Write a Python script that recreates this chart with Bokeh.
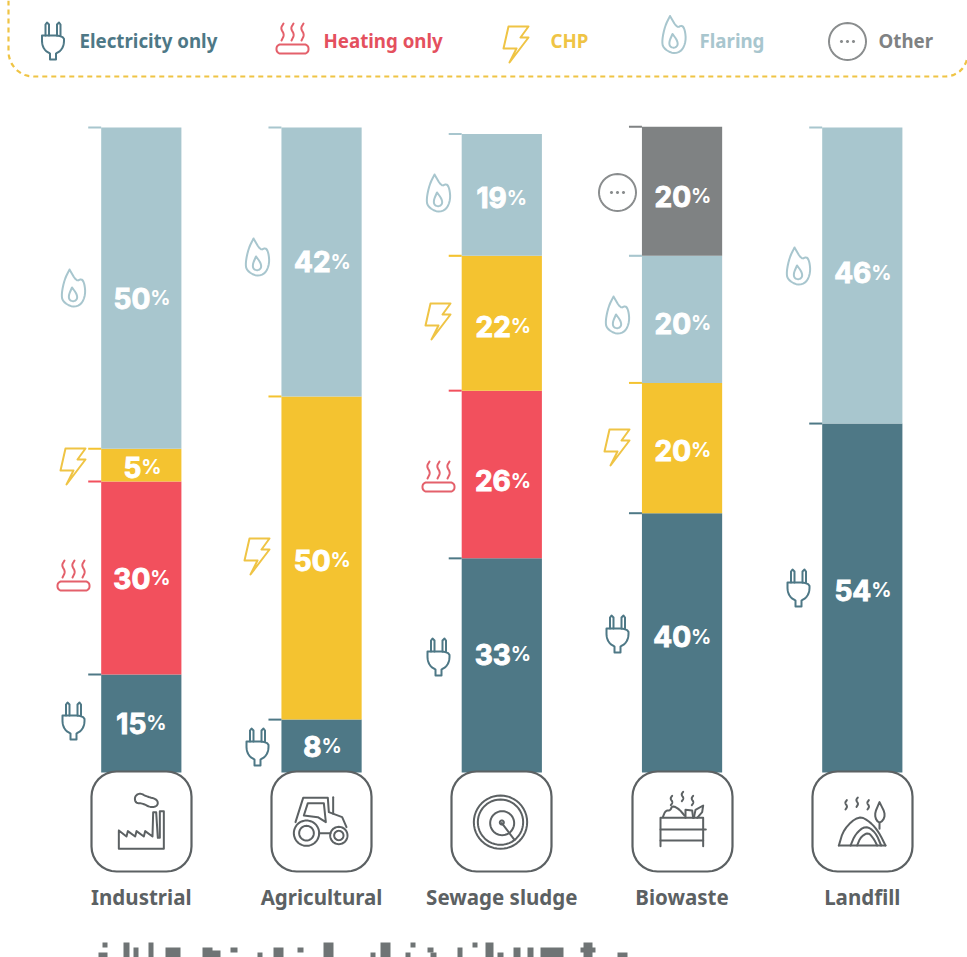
import math
from bokeh.embed import file_html
from bokeh.models import Range1d, ColumnDataSource
from bokeh.plotting import figure
from bokeh.resources import INLINE
from bokeh.core.properties import value

# ---------- data ----------
categories = ["Industrial", "Agricultural", "Sewage sludge", "Biowaste", "Landfill"]
series_names = ["Electricity only", "Heating only", "CHP", "Flaring", "Other"]
electricity = [15, 8, 33, 40, 54]
heating = [30, None, 26, None, None]
chp = [5, 50, 22, 20, None]
flaring = [50, 42, 19, 20, 46]
other = [None, None, None, 20, None]
# segment heights (same order)
electricity_h = [15.2, 8.2, 33.2, 40.2, 54.1]
heating_h = [29.9, 0, 26.0, 0, 0]
chp_h = [5.1, 50.1, 20.9, 20.2, 0]
flaring_h = [49.8, 41.7, 18.9, 19.7, 45.9]
other_h = [0, 0, 0, 20.0, 0]

# ---------- styles / layout ----------
bar_colors = ["#4e7886", "#f2505d", "#f4c330", "#a8c6ce", "#7f8283"]
icon_colors = ["#4e7886", "#e4606b", "#efc445", "#a8c6ce", "#8a8d8e"]
text_colors = ["#4e7886", "#e4505e", "#efc445", "#a8c6ce", "#7f8283"]
ink = "#5c6163"
FONT = "Noto Sans"
NUM = "Inter"

label_nudge = [[0, 0, 2, 10], [0, 2, 0], [-11, 6, 3, 3], [-6, 2, 4, 5], [-8, -3]]
icon_x = [73, 257, 438, 617, 798]
icon_y = [[720, 575, 466, 289, None], [746, None, 556, 258, None], [656, 476, 321, 194, None],
          [633, None, 447, 316, 192], [587, None, None, 267, None]]

W, H = 967, 957
PX_PER_UNIT = 6.45
BASE_REF = 772
x0 = (0 - 140.8) / 180.25
x1 = (W - 140.8) / 180.25
y0 = (BASE_REF - H) / PX_PER_UNIT
y1 = BASE_REF / PX_PER_UNIT

p = figure(width=W, height=H, output_backend="svg", toolbar_location=None,
           x_range=Range1d(x0, x1), y_range=Range1d(y0, y1), min_border=0)
p.axis.visible = False
p.grid.visible = False
p.outline_line_color = None
p.background_fill_color = "white"
p.extra_x_ranges["px"] = Range1d(0, W)
p.extra_y_ranges["px"] = Range1d(H, 0)
PX = dict(x_range_name="px", y_range_name="px")

# ---------- bars, stubs, percent labels ----------
heights = [electricity_h, heating_h, chp_h, flaring_h, other_h]
labels = [electricity, heating, chp, flaring, other]
bx, bb, bt, bc, sx0, sx1, sy, sc = [], [], [], [], [], [], [], []
nx, ny, nt, noff, nyo = [], [], [], [], []
BAR_W = 0.445
for i in range(len(categories)):
    base = 0.0
    k = 0
    for s in range(5):
        h = heights[s][i]
        if not h:
            continue
        bx.append(i); bb.append(base); bt.append(base + h); bc.append(bar_colors[s])
        sx0.append(i - BAR_W / 2 - 0.072); sx1.append(i - BAR_W / 2); sy.append(base + h); sc.append(bar_colors[s])
        n = labels[s][i]
        nx.append(i); ny.append(base + h / 2); nt.append(str(n))
        if n >= 20:
            noff.append(9)
        elif n >= 10:
            noff.append(5)
        else:
            noff.append(0)
        nyo.append(label_nudge[i][k])
        base += h
        k += 1

p.vbar(x=bx, bottom=bb, top=bt, width=BAR_W, fill_color=bc, line_color=None)
p.segment(x0=sx0, x1=sx1, y0=sy, y1=sy, line_color=sc, line_width=2)

src = ColumnDataSource(dict(x=nx, y=ny, t=nt, o=noff, yo=nyo, pc=["%"] * len(nt)))
p.text(x="x", y="y", text="t", x_offset="o", y_offset="yo", source=src, text_color="white",
       text_outline_color="white",
       text_font=value(NUM), text_font_style="bold", text_font_size="28px",
       text_align="right", text_baseline="middle")
p.text(x="x", y="y", text="pc", x_offset="o", y_offset="yo", source=src, text_color="white",
       text_font=value(NUM), text_font_style="bold", text_font_size="20px",
       text_align="left", text_baseline="middle")


# ---------- icon helpers ----------
def chaikin(pts, closed=False, n=3):
    for _ in range(n):
        out = [] if closed else [pts[0]]
        m = len(pts)
        rng = range(m) if closed else range(m - 1)
        for j in rng:
            a, b = pts[j], pts[(j + 1) % m]
            out.append((a[0] * .75 + b[0] * .25, a[1] * .75 + b[1] * .25))
            out.append((a[0] * .25 + b[0] * .75, a[1] * .25 + b[1] * .75))
        if not closed:
            out.append(pts[-1])
        pts = out
    return pts + [pts[0]] if closed else pts


def circ(cx, cy, r, n=48):
    return [(cx + r * math.cos(2 * math.pi * t / n), cy + r * math.sin(2 * math.pi * t / n)) for t in range(n + 1)]


def rrect(xa, ya, xb, yb, r, n=8):
    pts = []
    for cx, cy, a0 in [(xb - r, ya + r, -90), (xb - r, yb - r, 0), (xa + r, yb - r, 90), (xa + r, ya + r, 180)]:
        for t in range(n + 1):
            a = math.radians(a0 + 90 * t / n)
            pts.append((cx + r * math.cos(a), cy + r * math.sin(a)))
    return pts + [pts[0]]


ICONS = {
    "plug": [
        chaikin([(-11, -5), (11, -5), (11, 4), (8, 10), (3, 13)], n=2) + [(3, 19), (-3, 19)] +
        chaikin([(-3, 13), (-8, 10), (-11, 4), (-11, -5)], n=2),
        [(-7.5, -5), (-7.5, -16), (-6, -18), (-4, -16), (-4, -5)],
        [(4, -5), (4, -16), (6, -18), (7.5, -16), (7.5, -5)],
    ],
    "heat": [
        rrect(-16, 6, 16, 15, 4),
        chaikin([(-9, -15), (-12, -10), (-8, -4), (-11, 2)]),
        chaikin([(1, -15), (-2, -10), (2, -4), (-1, 2)]),
        chaikin([(11, -15), (8, -10), (12, -4), (9, 2)]),
    ],
    "bolt": [[(-8, -18), (12, -18), (4, -7), (12, -7), (-7, 18), (0, 4), (-13, 4), (-8, -18)]],
    "flare": [
        chaikin([(-4, -20), (-4, -20), (-9, -10), (-12, 4), (-11, 12), (-1, 18), (8, 15), (12, 5), (11, -6), (8, -11),
                 (3, -8), (-4, -20)], closed=False, n=2),
        chaikin([(-1.5, -2), (-1.5, -2), (-5, 6), (-4, 11), (1, 12), (4, 9), (3, 4), (-1.5, -2)], n=2),
    ],
    "other": [circ(0, 0, 18.5), circ(-6, 0, .6, 8), circ(0, 0, .6, 8), circ(6, 0, .6, 8)],
}

lx, ly, lc = [], [], []


def add(paths, color, dx=0, dy=0):
    for path in paths:
        lx.append([q[0] + dx for q in path])
        ly.append([q[1] + dy for q in path])
        lc.append(color)


# side icons
names = ["plug", "heat", "bolt", "flare", "other"]
for i in range(5):
    for s in range(5):
        if icon_y[i][s] is not None:
            add(ICONS[names[s]], icon_colors[s], icon_x[i], icon_y[i][s])

# legend icons and texts
leg_pos = [(52.5, 40), (292, 38), (516, 44), (673.5, 35.5), (847, 41)]
leg_txt = [79, 323, 550, 699, 878]
for s in range(5):
    add(ICONS[names[s]], icon_colors[s], *leg_pos[s])
p.text(x=leg_txt, y=[40] * 5, text=series_names, text_color=text_colors, text_font=value(FONT),
       text_font_style="bold", text_font_size="18.7px", text_baseline="middle", **PX)

# legend border
border = [(8, 0), (8, 51)] + [(33 - 25 * math.cos(math.radians(t)), 51 + 25 * math.sin(math.radians(t))) for t in range(0, 91, 10)] + \
         [(945, 76)] + [(945 + 22 * math.sin(math.radians(t)), 54 + 22 * math.cos(math.radians(t))) for t in range(0, 81, 10)]
p.line([q[0] for q in border], [q[1] for q in border], line_color="#efc445", line_width=2.2,
       line_dash="5 4", **PX)

# cards
card_x = [141, 321, 501, 682, 862]
card_paths = [rrect(c - 50, 771, c + 50, 871, 25) for c in card_x]
p.patches([[q[0] for q in c] for c in card_paths], [[q[1] for q in c] for c in card_paths],
          fill_color="white", line_color=ink, line_width=2.2, **PX)

# card pictograms, traced in a 3x local frame
def z3(pts):
    return [(40 + a / 3, 760 + b / 3) for a, b in pts]


def z4(pts):
    return [(500 + a / 3, 760 + b / 3) for a, b in pts]


def squig(x, y):
    return chaikin([(x + 2, y - 14), (x - 4, y - 6), (x + 4, y + 5), (x - 2, y + 14)])


factory = [
    [(235, 210), (235, 265), (370, 265), (370, 152), (358, 152), (358, 232), (352, 232), (347, 155), (338, 155), (336, 228),
     (314, 212), (310, 228), (288, 212), (284, 228), (262, 212), (258, 228), (235, 210)],
    chaikin([(282, 108), (298, 97), (318, 108), (350, 116), (353, 135), (332, 142), (305, 128), (285, 128)], closed=True),
]
tractor = [
    circ(798, 218, 38), circ(798, 218, 22),
    circ(895, 225, 26), circ(895, 225, 14),
    [(765, 185), (788, 112), (862, 112), (865, 155), (905, 170), (918, 200)],
    [(790, 165), (802, 128), (850, 128), (856, 185), (832, 170), (790, 165)],
    [(878, 110), (878, 160)],
    [(836, 218), (870, 218)],
]
digester = [circ(1380, 185, 80), circ(1380, 185, 68), circ(1385, 188, 36), circ(1384, 186, 6), [(1384, 188), (1422, 238)]]
biowaste = [
    [(480, 257), (480, 172), (608, 172), (608, 257)],
    [(480, 207), (616, 207)], [(480, 240), (608, 240)],
    chaikin([(487, 170), (495, 150), (510, 150), (515, 135), (535, 145), (552, 165)], n=2),
    [(555, 172), (555, 148), (575, 150), (578, 172)],
    [(580, 172), (585, 148), (608, 135), (605, 155), (590, 172)],
    squig(513, 120), squig(546, 108), squig(576, 120),
]
landfill = [
    [(1015, 255), (1155, 255)],
    chaikin([(1015, 255), (1030, 205), (1075, 165), (1110, 185), (1135, 215), (1155, 255)], n=2),
    chaikin([(1050, 255), (1065, 220), (1095, 195), (1125, 215), (1142, 255)], n=2),
    chaikin([(1070, 255), (1080, 230), (1103, 215), (1120, 235), (1130, 255)], n=2),
    chaikin([(1137, 125), (1137, 125), (1120, 165), (1137, 192), (1157, 165), (1137, 125)], n=2),
    [(1137, 190), (1137, 205)],
    squig(1037, 133), squig(1070, 125), squig(1103, 133),
]
for shape, f in [(factory, z3), (tractor, z3), (digester, z3), (biowaste, z4), (landfill, z4)]:
    add([f(path) for path in shape], ink)

p.multi_line(lx, ly, line_color=lc, line_width=2, line_join="round", line_cap="round", **PX)

# category names
p.text(x=list(range(5)), y=[(BASE_REF - 896.5) / PX_PER_UNIT] * 5, text=categories, text_color=ink,
       text_font=value(FONT), text_font_style="bold", text_font_size="20.5px",
       text_align="center", text_baseline="middle")

# the illegible, pixelated line at the foot of the picture
blur_blocks = [(102, 107, 942, 947), (98, 107, 952, 957), (123, 129, 942, 957), (133, 138, 947, 957), (148, 153, 942, 957), (165, 180, 947, 957),
               (202, 212, 947, 957), (210, 220, 950, 957), (230, 237, 947, 952), (257, 262, 952, 957), (273, 283, 947, 957), (297, 303, 947, 952),
               (323, 333, 942, 957), (370, 375, 952, 957), (380, 390, 942, 957), (410, 415, 942, 947), (405, 410, 952, 957), (427, 433, 947, 952),
               (430, 436, 952, 957), (457, 462, 947, 957),
               (472, 477, 942, 947), (485, 493, 942, 957), (497, 503, 952, 957), (513, 520, 947, 957), (527, 533, 947, 957), (540, 563, 947, 957),
               (583, 592, 942, 957), (580, 595, 947, 952), (617, 627, 952, 957)]
p.quad(left=[b[0] for b in blur_blocks], right=[b[1] for b in blur_blocks],
       bottom=[b[3] for b in blur_blocks], top=[b[2] for b in blur_blocks],
       fill_color="#6f7475", line_color=None, **PX)

open("out.html", "w").write(file_html(p, INLINE))
